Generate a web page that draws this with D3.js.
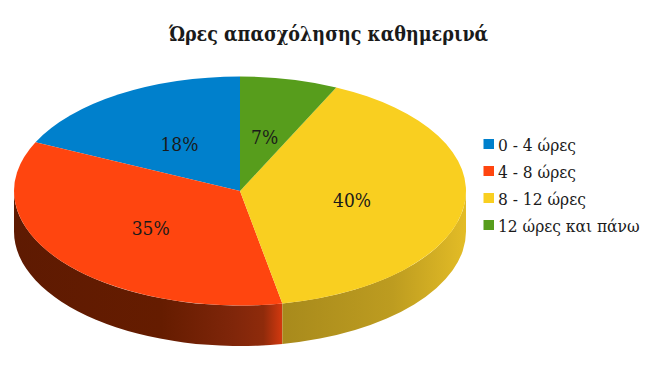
<!DOCTYPE html>
<html lang="el">
<head>
<meta charset="UTF-8">
<title>Ώρες απασχόλησης καθημερινά</title>
<script src="https://d3js.org/d3.v7.min.js"></script>
<style>
  html, body { margin: 0; padding: 0; background: #fff; }
  svg { display: block; }
  text { font-family: "DejaVu Serif Condensed", "DejaVu Serif", serif; font-stretch: condensed; fill: #1a1a1a; }
</style>
</head>
<body>
<div id="chart"></div>
<script>
const titleText = "Ώρες απασχόλησης καθημερινά";
const categories = ["0 - 4 ώρες", "4 - 8 ώρες", "8 - 12 ώρες", "12 ώρες και πάνω"];
const shares = [18, 35, 40, 7];
const colors = ["#0080cc", "#ff450f", "#f9cf20", "#579d1c"];

const w = 656, h = 369;
const cx = 240, cy = 191, rx = 226, ry = 114.5, depth = 40.5;

const svg = d3.select("#chart").append("svg").attr("width", w).attr("height", h);
const defs = svg.append("defs");

// side wall shading, only orange and yellow slices reach the front
function sideGradient(id, stops) {
  const g = defs.append("linearGradient").attr("id", id);
  stops.forEach(s => g.append("stop").attr("offset", s[0]).attr("stop-color", s[1]));
}
sideGradient("side-1", [[0, "#5e1a02"], [0.55, "#651c00"], [0.82, "#80260a"], [0.93, "#8f2b0b"], [1, "#d4390f"]]);
sideGradient("side-2", [[0, "#a88a1c"], [0.6, "#bd9c20"], [1, "#e3bc26"]]);

// slices run counter-clockwise from 12 o'clock
const pie = d3.pie().sort(null).startAngle(0).endAngle(-2 * Math.PI);
const arcs = pie(shares);
const arc = d3.arc().innerRadius(0).outerRadius(rx);

const px = a => cx + rx * Math.sin(a);
const py = a => cy - ry * Math.cos(a);

const sides = svg.append("g");
arcs.forEach((d, i) => {
  // d3 angles are negative here, wall is visible between -270 and -90 deg
  const a0 = Math.max(d.endAngle, -1.5 * Math.PI);
  const a1 = Math.min(d.startAngle, -0.5 * Math.PI);
  if (a0 >= a1) return;
  const p = `M${px(a0)},${py(a0)}`
    + `A${rx},${ry} 0 0 1 ${px(a1)},${py(a1)}`
    + `L${px(a1)},${py(a1) + depth}`
    + `A${rx},${ry} 0 0 0 ${px(a0)},${py(a0) + depth}Z`;
  sides.append("path").attr("d", p).attr("fill", `url(#side-${i})`);
});

svg.append("g")
  .attr("transform", `translate(${cx},${cy}) scale(1,${ry / rx})`)
  .selectAll("path")
  .data(arcs)
  .enter()
  .append("path")
  .attr("d", arc)
  .attr("fill", (d, i) => colors[i]);

svg.selectAll("text.value")
  .data(arcs)
  .enter()
  .append("text")
  .attr("class", "value")
  .attr("x", d => cx + arc.centroid(d)[0])
  .attr("y", d => cy + arc.centroid(d)[1] * ry / rx + 8.5)
  .attr("text-anchor", "middle")
  .attr("font-size", "19px")
  .text(d => d.data + "%");

svg.append("text")
  .attr("x", 328.5)
  .attr("y", 41)
  .attr("text-anchor", "middle")
  .attr("font-size", "19.5px")
  .attr("font-weight", "bold")
  .text(titleText);

const legend = svg.selectAll("g.legend")
  .data(categories)
  .enter()
  .append("g")
  .attr("class", "legend")
  .attr("transform", (d, i) => `translate(483.5,${139 + i * 27})`);

legend.append("rect")
  .attr("width", 10.5)
  .attr("height", 10)
  .attr("fill", (d, i) => colors[i]);

legend.append("text")
  .attr("x", 14.5)
  .attr("y", 12)
  .attr("font-size", "17.2px")
  .text(d => d);
</script>
</body>
</html>
